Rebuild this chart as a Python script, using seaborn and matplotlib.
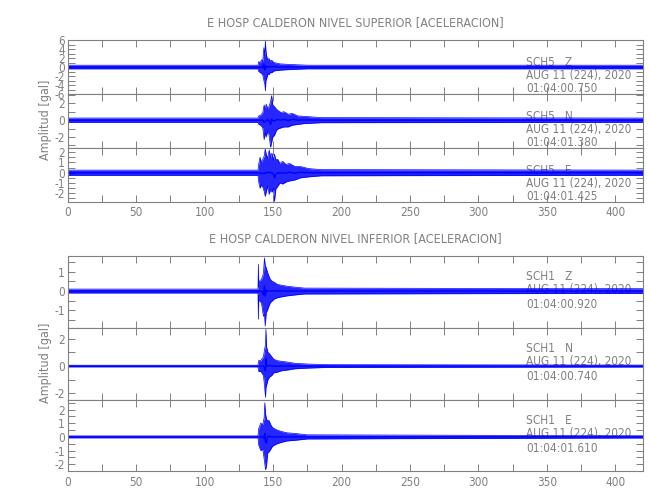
import numpy as np
import pandas as pd
import matplotlib
matplotlib.use("Agg")
import matplotlib.pyplot as plt
from matplotlib.ticker import MultipleLocator
import seaborn as sns

sns.set_style("ticks")
plt.rcParams['font.family'] = ['DejaVu Sans']
plt.rcParams['font.stretch'] = 'condensed'
plt.rcParams['axes.unicode_minus'] = False

# envelope keyframes (time [s], upper, lower) in gal
z5_t = [0, 139.0, 139.5, 140.5, 141.5, 142.5, 143.3, 144.0, 144.4, 144.8, 145.5, 146.3, 147.0, 148.0, 149.0, 150.5, 152, 155, 160, 167, 175, 420]
z5_up = [0.4, 0.4, 1.2, 0.9, 1.6, 1.3, 4.3, 2.5, 5.8, 3.5, 2.2, 1.6, 1.9, 1.3, 1.5, 1.0, 0.9, 0.7, 0.6, 0.5, 0.4, 0.4]
z5_lo = [-0.4, -0.4, -1.0, -1.2, -1.4, -1.8, -3.0, -3.8, -5.3, -3.0, -2.4, -1.5, -1.7, -1.2, -1.3, -0.9, -0.8, -0.7, -0.6, -0.5, -0.4, -0.4]

n5_t = [0, 139.0, 139.5, 141, 142.5, 143.5, 144.3, 145.0, 146.0, 147.0, 148.2, 149.0, 149.8, 151.0, 152.5, 154.0, 156, 158, 161, 164, 168, 173, 185, 420]
n5_up = [0.25, 0.25, 0.5, 0.6, 0.9, 1.8, 1.2, 1.9, 1.4, 1.6, 2.2, 2.9, 1.8, 1.6, 1.3, 1.1, 0.9, 1.0, 0.7, 0.8, 0.5, 0.45, 0.3, 0.25]
n5_lo = [-0.25, -0.25, -0.5, -0.6, -0.9, -2.3, -1.5, -2.0, -1.3, -1.7, -3.2, -2.6, -2.0, -1.8, -1.2, -1.0, -0.9, -0.8, -0.8, -0.6, -0.5, -0.4, -0.3, -0.25]

e5_t = [0, 139.0, 139.5, 140.5, 141.5, 142.5, 143.5, 144.3, 145.0, 146.0, 147.2, 148.2, 149.2, 150.3, 151.0, 152.0, 153.5, 155, 157, 159.5, 162, 166, 170, 176, 185, 420]
e5_up = [0.25, 0.25, 0.8, 1.5, 1.0, 1.3, 1.6, 2.3, 1.8, 1.4, 2.2, 1.5, 1.9, 1.2, 1.8, 1.3, 1.3, 0.9, 1.1, 0.8, 0.9, 0.6, 0.6, 0.4, 0.3, 0.25]
e5_lo = [-0.25, -0.25, -0.9, -1.5, -1.2, -1.4, -1.8, -2.3, -1.9, -1.3, -2.1, -1.6, -1.9, -1.5, -2.8, -1.6, -1.3, -1.0, -1.1, -0.9, -0.8, -0.7, -0.5, -0.4, -0.3, -0.25]

z1_t = [0, 139.0, 139.3, 139.6, 140.0, 141.5, 143.0, 143.7, 144.3, 145.0, 145.8, 146.8, 148.0, 149.5, 151, 153, 156, 160, 166, 173, 420]
z1_up = [0.1, 0.1, 1.37, 0.2, 0.5, 0.6, 0.9, 1.7, 1.3, 1.2, 1.0, 0.8, 0.6, 0.5, 0.45, 0.35, 0.3, 0.25, 0.2, 0.15, 0.12]
z1_lo = [-0.1, -0.1, -1.45, -0.2, -0.5, -0.6, -1.3, -1.2, -1.8, -1.1, -1.0, -0.8, -0.6, -0.5, -0.4, -0.35, -0.3, -0.25, -0.2, -0.15, -0.12]

n1_t = [0, 139.0, 139.5, 141, 143.0, 143.8, 144.5, 144.8, 145.3, 146.3, 147.5, 149, 150.5, 153, 156, 160, 166, 175, 190, 420]
n1_up = [0.06, 0.06, 0.4, 0.4, 0.7, 1.2, 1.6, 2.7, 1.4, 1.0, 0.9, 0.7, 0.5, 0.4, 0.35, 0.3, 0.2, 0.15, 0.1, 0.07]
n1_lo = [-0.06, -0.06, -0.4, -0.4, -0.7, -1.5, -2.3, -1.6, -1.4, -1.0, -0.8, -0.7, -0.5, -0.45, -0.35, -0.3, -0.2, -0.15, -0.1, -0.07]

e1_t = [0, 139.0, 139.5, 141, 142.5, 143.5, 144.0, 144.5, 145.2, 146, 147, 148.3, 149.5, 151, 153, 156, 160, 166, 175, 420]
e1_up = [0.07, 0.07, 0.6, 1.0, 0.9, 1.4, 2.5, 1.7, 1.3, 1.2, 1.2, 0.9, 0.7, 0.6, 0.5, 0.4, 0.3, 0.25, 0.15, 0.08]
e1_lo = [-0.07, -0.07, -0.6, -1.0, -0.9, -1.6, -2.0, -2.4, -2.15, -1.2, -1.1, -0.9, -0.7, -0.6, -0.5, -0.4, -0.3, -0.25, -0.15, -0.08]

stations = ["SCH5   Z", "SCH5   N", "SCH5   E", "SCH1   Z", "SCH1   N", "SCH1   E"]
start_times = ["01:04:00.750", "01:04:01.380", "01:04:01.425", "01:04:00.920", "01:04:00.740", "01:04:01.610"]
date_label = "AUG 11 (224), 2020"
titles = ["E HOSP CALDERON NIVEL SUPERIOR [ACELERACION]", "E HOSP CALDERON NIVEL INFERIOR [ACELERACION]"]

traces = [(z5_t, z5_up, z5_lo), (n5_t, n5_up, n5_lo), (e5_t, e5_up, e5_lo),
          (z1_t, z1_up, z1_lo), (n1_t, n1_up, n1_lo), (e1_t, e1_up, e1_lo)]
ylims = [(-6, 6), (-3.3, 3.1), (-2.8, 2.4), (-1.9, 1.8), (-2.5, 2.8), (-2.5, 2.7)]
ymajor = [2, 2, 1, 1, 2, 1]
yminor = [1, 1, 0.5, 0.5, 1, 0.5]
# axes boxes in figure fraction [left, bottom, width, height]
boxes = [[0.104, 0.812, 0.885, 0.108], [0.104, 0.704, 0.885, 0.108], [0.104, 0.597, 0.885, 0.107],
         [0.104, 0.344, 0.885, 0.144], [0.104, 0.200, 0.885, 0.144], [0.104, 0.058, 0.885, 0.142]]
text_off = [[-22, -35, -48], [-22, -35, -48], [-22, -35, -48],
            [-21, -34, -48], [-21, -34, -48], [-21, -34, -48]]

grey = '#808080'
blue = '#0000ff'

fig = plt.figure(figsize=(6.5, 5), dpi=100)

for i in range(6):
    ax = fig.add_axes(boxes[i])
    t, up, lo = traces[i]
    df = pd.DataFrame({'t': t, 'up': up, 'lo': lo})
    ax.fill_between(df['t'], df['lo'], df['up'], color=blue, alpha=0.85, lw=0)
    sns.lineplot(x='t', y='up', data=df, ax=ax, color=blue, lw=0.5)
    sns.lineplot(x='t', y='lo', data=df, ax=ax, color=blue, lw=0.5)
    sns.lineplot(x='t', y=(df['up'] + df['lo']) / 2, data=df, ax=ax, color=blue, lw=1.0)
    ax.set_xlim(0, 420)
    ax.set_ylim(*ylims[i])
    ax.xaxis.set_major_locator(MultipleLocator(50))
    ax.xaxis.set_minor_locator(MultipleLocator(25))
    ax.yaxis.set_major_locator(MultipleLocator(ymajor[i]))
    ax.yaxis.set_minor_locator(MultipleLocator(yminor[i]))
    ax.tick_params(which='both', direction='in', top=True, right=True, color=grey,
                   labelcolor=grey, labelsize=8.5, width=0.7)
    ax.tick_params(which='major', length=5)
    ax.tick_params(which='minor', length=5)
    ax.tick_params(axis='y', pad=2)
    ax.set_xlabel('')
    ax.set_ylabel('')
    for s in ax.spines.values():
        s.set_color(grey)
        s.set_linewidth(0.8)
    if i in (2, 5):
        ax.tick_params(axis='x', labelbottom=True)
    else:
        ax.tick_params(axis='x', labelbottom=False)
    if i in (0, 3):
        ax.set_title(titles[i // 3], color=grey, fontsize=9, pad=10)
    lines = [stations[i], date_label, start_times[i]]
    for k in range(3):
        ax.annotate(lines[k], xy=(335, 1), xycoords=('data', 'axes fraction'),
                    xytext=(0, text_off[i][k]), textcoords='offset pixels',
                    ha='left', va='center', color=grey, fontsize=8.5, zorder=0)

fig.text(45 / 650, 1 - 120 / 500, 'Amplitud [gal]', rotation=90, ha='center', va='center',
         color=grey, fontsize=9)
fig.text(45 / 650, 1 - 363 / 500, 'Amplitud [gal]', rotation=90, ha='center', va='center',
         color=grey, fontsize=9)

fig.savefig('out.png', dpi=100, facecolor='white')
